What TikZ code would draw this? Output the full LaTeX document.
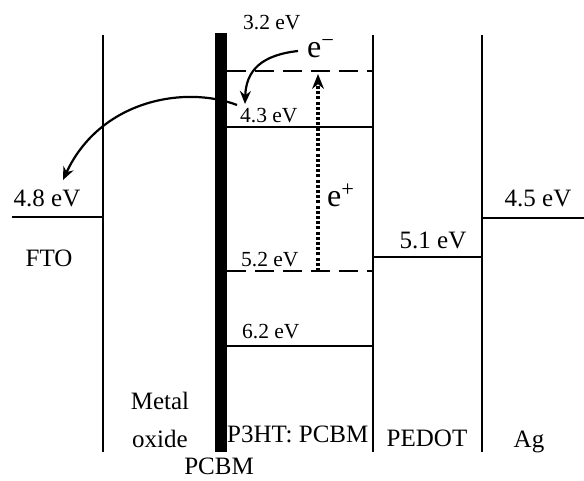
\documentclass[tikz,border=0pt]{standalone}
\usepackage{fontspec}
\setmainfont{Liberation Serif}
\usetikzlibrary{arrows.meta}
\tikzset{
  lvl/.style={line width=2.2pt},
  dlvl/.style={line width=2.4pt, dash pattern=on 19pt off 9pt},
  big/.style={font=\fontsize{25}{28}\selectfont, inner sep=0pt, anchor=base},
  small/.style={font=\fontsize{21.5}{24}\selectfont, inner sep=0pt, anchor=base west},
  carrier/.style={font=\fontsize{32}{34}\selectfont, inner sep=0pt, anchor=base west},
  flow/.style={line width=2.2pt, -{Stealth[length=13pt,width=11pt]}},
  hole/.style={line width=3.5pt, dash pattern=on 3pt off 2.2pt, -{Stealth[length=15pt,width=12pt,line width=0pt]}}
}
\begin{document}
\begin{tikzpicture}[x=1pt,y=-1pt]
\useasboundingbox (0,0) rectangle (584,480);
% named coordinates
\coordinate (ftoT) at (103,35);   \coordinate (ftoB) at (103,452);
\coordinate (barT) at (221,33);   \coordinate (barB) at (221,452);
\coordinate (p3T) at (373,35);    \coordinate (p3B) at (373,452);
\coordinate (peT) at (482,35);    \coordinate (peB) at (482,452);
% energy levels
\coordinate (l48a) at (12,217);  \coordinate (l48b) at (103,217);
\coordinate (l45a) at (482,218); \coordinate (l45b) at (584,218);
\coordinate (l51a) at (373,257); \coordinate (l51b) at (482,257);
\coordinate (l32a) at (227,71);  \coordinate (l32b) at (373,71);
\coordinate (l43a) at (227,127); \coordinate (l43b) at (373,127);
\coordinate (l52a) at (227,271); \coordinate (l52b) at (373,271);
\coordinate (l62a) at (227,346); \coordinate (l62b) at (373,346);
% arrow points
\coordinate (bigS) at (237,105); \coordinate (bigE) at (63,180);
\coordinate (eS) at (298,51);    \coordinate (eE) at (245,104);
\coordinate (hS) at (318,271);   \coordinate (hE) at (318,74);

% big arrow (behind the bar)
\draw[flow] (bigS) .. controls (185,85) and (100,100) .. (bigE);

\draw[lvl] (ftoT) -- (ftoB);
\draw[lvl] (p3T) -- (p3B);
\draw[lvl] (peT) -- (peB);
\draw[line width=12pt] (barT) -- (barB);

\draw[lvl] (l48a) -- (l48b);
\draw[lvl] (l45a) -- (l45b);
\draw[lvl] (l51a) -- (l51b);
\draw[lvl] (l43a) -- (l43b);
\draw[lvl] (l62a) -- (l62b);
\draw[dlvl] (l32a) -- (l32b);
\draw[dlvl] (l52a) -- (l52b);

% carriers
\draw[flow] (eS) .. controls (262,55) and (246,70) .. (eE);
\draw[hole] (hS) -- (hE);

% labels
\node[big] (t48) at (47,206) {4.8 eV};
\node[big] (tfto) at (49,266) {FTO};
\node[big] (t45) at (538,206) {4.5 eV};
\node[big] (t51) at (433,248) {5.1 eV};
\node[small] (t32) at (243,29) {3.2 eV};
\node[small] (t43) at (240,122) {4.3 eV};
\node[small] (t52) at (241,266) {5.2 eV};
\node[small] (t62) at (242,338) {6.2 eV};
\node[carrier] (em) at (307,57) {e\textsuperscript{−}};
\node[carrier] (ep) at (327,206) {e\textsuperscript{+}};
\node[big] (metal) at (160,409) {Metal};
\node[big] (oxide) at (160,447) {oxide};
\node[big,anchor=base west] (p3ht) at (227,442) {P3HT: PCBM};
\node[big] (pedot) at (427,446) {PEDOT};
\node[big] (ag) at (529,447) {Ag};
\node[big] (pcbm) at (219,474) {PCBM};
\end{tikzpicture}
\end{document}
